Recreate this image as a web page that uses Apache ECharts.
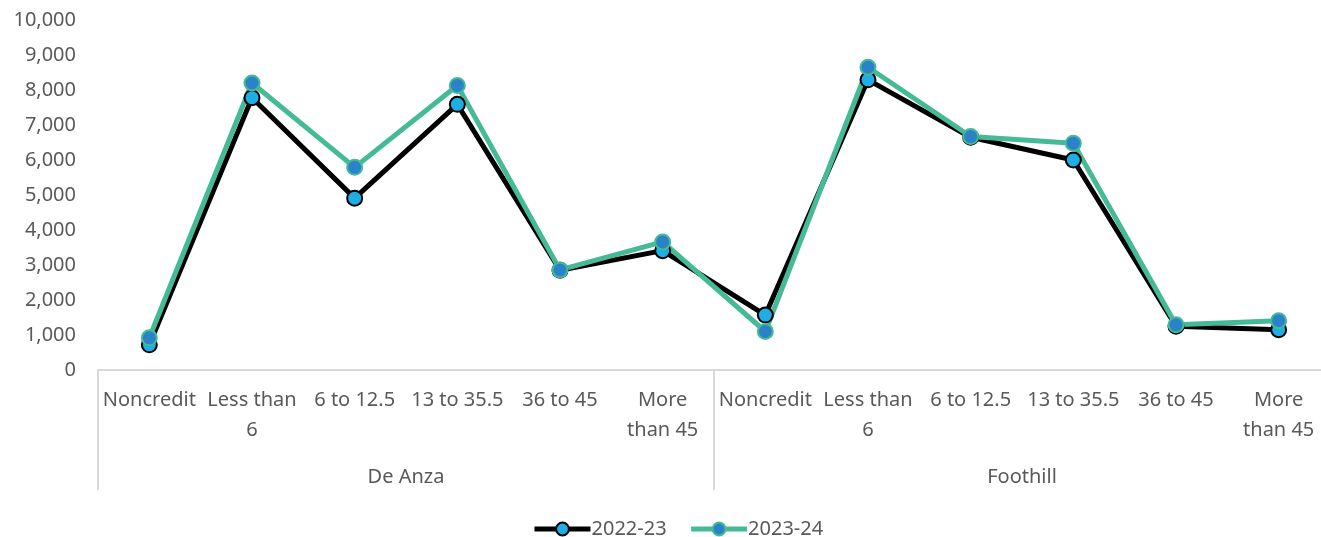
<!DOCTYPE html>
<html>
<head>
<meta charset="utf-8">
<script src="https://cdn.jsdelivr.net/npm/echarts@6/dist/echarts.min.js"></script>
<style>
html,body{margin:0;padding:0;background:#fff;}
#chart{width:1321px;height:537px;}
</style>
</head>
<body>
<div id="chart"></div>
<script>
const categories = ['Noncredit','Less than\n6','6 to 12.5','13 to 35.5','36 to 45','More\nthan 45',
                    'Noncredit','Less than\n6','6 to 12.5','13 to 35.5','36 to 45','More\nthan 45'];
const groups = ['De Anza','Foothill'];
const series2223 = [720, 7780, 4910, 7590, 2850, 3410, 1570, 8290, 6650, 6000, 1250, 1150];
const series2324 = [920, 8200, 5790, 8130, 2860, 3660, 1100, 8650, 6670, 6480, 1290, 1410];
const yTicks = {min: 0, max: 10000, interval: 1000};

const FONT = "'Noto Sans', sans-serif";
const TXT = '#595959';
const chart = echarts.init(document.getElementById('chart'));
chart.setOption({
  animation: false,
  backgroundColor: '#fff',
  grid: {left: 98, top: 20, width: 1232, bottom: 167, containLabel: false, outerBoundsMode: 'none'},
  legend: {
    left: 527, top: 514,
    itemWidth: 56, itemHeight: 16, itemGap: 22,
    textStyle: {fontFamily: FONT, fontSize: 20, color: TXT, padding: [0,0,0,-4]},
    data: [
      {name: '2022-23', lineStyle: {width: 5, color: '#000'}},
      {name: '2023-24', lineStyle: {width: 5, color: '#45BA96'}}
    ]
  },
  xAxis: [
    {
      type: 'category', data: categories, position: 'bottom',
      axisLine: {show: true, lineStyle: {color: '#d9d9d9', width: 2}},
      axisTick: {show: false},
      axisLabel: {interval: 0, margin: 15, fontFamily: FONT, fontSize: 20, lineHeight: 30, color: TXT}
    },
    {
      type: 'category', data: groups, position: 'bottom', gridIndex: 0,
      axisLine: {show: false},
      axisTick: {show: true, length: 120, lineStyle: {color: '#d9d9d9', width: 2}},
      axisLabel: {interval: 0, margin: 92, fontFamily: FONT, fontSize: 20, lineHeight: 30, color: TXT}
    }
  ],
  yAxis: {
    type: 'value', min: yTicks.min, max: yTicks.max, interval: yTicks.interval,
    axisLine: {show: false}, axisTick: {show: false}, splitLine: {show: false},
    axisLabel: {margin: 22, fontFamily: FONT, fontSize: 20, color: TXT,
      formatter: v => v.toLocaleString('en-US')}
  },
  series: [
    {
      name: '2022-23', type: 'line', data: series2223, xAxisIndex: 0,
      symbol: 'circle', symbolSize: 15,
      lineStyle: {color: '#000', width: 5},
      itemStyle: {color: '#1FAEE4', borderColor: '#000', borderWidth: 2}
    },
    {
      name: '2023-24', type: 'line', data: series2324, xAxisIndex: 0,
      symbol: 'circle', symbolSize: 15,
      lineStyle: {color: '#45BA96', width: 5},
      itemStyle: {color: '#2A83C9', borderColor: '#45BA96', borderWidth: 2}
    }
  ]
});
</script>
</body>
</html>
